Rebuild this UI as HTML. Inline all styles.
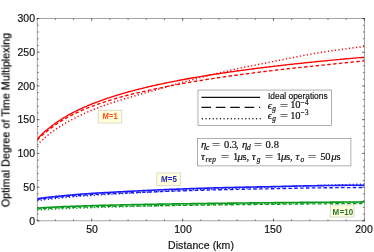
<!DOCTYPE html>
<html><head><meta charset="utf-8"><title>chart</title>
<style>
html,body{margin:0;padding:0;background:#fff;overflow:hidden;}
#w{position:relative;width:374px;height:252px;overflow:hidden;background:#fff;font-family:"Liberation Sans",sans-serif;color:#111;}
.t{position:absolute;white-space:nowrap;line-height:1;will-change:transform;-webkit-text-stroke:0.18px #111;}
.yt{font-size:10.5px;text-align:right;width:30px;left:4.9px;}
.xt{font-size:10.5px;text-align:center;width:40px;}
.m{font-family:"Liberation Serif",serif;}
.ml{font-weight:bold;font-size:8.7px;letter-spacing:-0.6px;}
i{font-style:italic;}
.k{position:absolute;white-space:nowrap;line-height:1;display:block;-webkit-text-stroke:0.2px #111;}
sub{font-size:70%;vertical-align:baseline;position:relative;top:0.25em;}
sup{font-size:70%;vertical-align:baseline;position:relative;top:-0.45em;}
</style></head><body><div id="w">
<svg width="374" height="252" viewBox="0 0 374 252" style="position:absolute;left:0;top:0">
<clipPath id="c"><rect x="37.2" y="18.5" width="327.15000000000003" height="202.35"/></clipPath>
<g clip-path="url(#c)">
<path d="M37.20,210.12 L38.57,210.02 L39.94,209.93 L41.31,209.83 L42.68,209.74 L44.05,209.66 L45.42,209.57 L46.79,209.49 L48.16,209.41 L49.53,209.33 L50.90,209.26 L52.27,209.19 L53.64,209.11 L55.01,209.05 L56.38,208.98 L57.75,208.91 L59.12,208.85 L60.49,208.78 L61.86,208.72 L63.23,208.66 L64.60,208.60 L65.97,208.55 L67.34,208.49 L68.71,208.44 L70.08,208.38 L71.45,208.33 L72.82,208.28 L74.19,208.23 L75.56,208.18 L76.93,208.13 L78.30,208.08 L79.67,208.03 L81.04,207.98 L82.41,207.94 L83.78,207.89 L85.15,207.85 L86.52,207.80 L87.89,207.76 L89.26,207.71 L90.63,207.67 L91.99,207.63 L93.36,207.58 L94.73,207.54 L96.10,207.49 L97.47,207.45 L98.84,207.41 L100.21,207.36 L101.58,207.32 L102.95,207.28 L104.32,207.24 L105.69,207.19 L107.06,207.15 L108.43,207.11 L109.80,207.07 L111.17,207.03 L112.54,206.99 L113.91,206.95 L115.28,206.91 L116.65,206.87 L118.02,206.83 L119.39,206.79 L120.76,206.75 L122.13,206.71 L123.50,206.67 L124.87,206.63 L126.24,206.60 L127.61,206.56 L128.98,206.52 L130.35,206.49 L131.72,206.45 L133.09,206.41 L134.46,206.38 L135.83,206.34 L137.20,206.30 L138.57,206.26 L139.94,206.23 L141.31,206.19 L142.68,206.15 L144.05,206.11 L145.42,206.08 L146.79,206.04 L148.16,206.00 L149.53,205.96 L150.90,205.93 L152.27,205.89 L153.64,205.85 L155.01,205.81 L156.38,205.78 L157.75,205.74 L159.12,205.70 L160.49,205.67 L161.86,205.63 L163.23,205.60 L164.60,205.56 L165.97,205.53 L167.34,205.49 L168.71,205.46 L170.08,205.42 L171.45,205.39 L172.82,205.36 L174.19,205.33 L175.56,205.30 L176.93,205.27 L178.30,205.24 L179.67,205.21 L181.04,205.18 L182.41,205.15 L183.78,205.12 L185.15,205.09 L186.52,205.06 L187.89,205.03 L189.26,205.00 L190.63,204.98 L192.00,204.95 L193.37,204.92 L194.74,204.90 L196.11,204.87 L197.48,204.84 L198.85,204.82 L200.22,204.79 L201.58,204.76 L202.95,204.74 L204.32,204.71 L205.69,204.69 L207.06,204.66 L208.43,204.64 L209.80,204.61 L211.17,204.59 L212.54,204.56 L213.91,204.54 L215.28,204.51 L216.65,204.49 L218.02,204.47 L219.39,204.44 L220.76,204.42 L222.13,204.39 L223.50,204.37 L224.87,204.35 L226.24,204.32 L227.61,204.30 L228.98,204.28 L230.35,204.26 L231.72,204.23 L233.09,204.21 L234.46,204.19 L235.83,204.17 L237.20,204.14 L238.57,204.12 L239.94,204.10 L241.31,204.08 L242.68,204.06 L244.05,204.03 L245.42,204.01 L246.79,203.99 L248.16,203.97 L249.53,203.95 L250.90,203.93 L252.27,203.91 L253.64,203.88 L255.01,203.86 L256.38,203.84 L257.75,203.82 L259.12,203.80 L260.49,203.78 L261.86,203.76 L263.23,203.74 L264.60,203.71 L265.97,203.69 L267.34,203.67 L268.71,203.65 L270.08,203.63 L271.45,203.61 L272.82,203.59 L274.19,203.57 L275.56,203.55 L276.93,203.53 L278.30,203.51 L279.67,203.49 L281.04,203.46 L282.41,203.44 L283.78,203.42 L285.15,203.40 L286.52,203.38 L287.89,203.36 L289.26,203.34 L290.63,203.32 L292.00,203.30 L293.37,203.28 L294.74,203.26 L296.11,203.24 L297.48,203.22 L298.85,203.20 L300.22,203.18 L301.59,203.16 L302.96,203.14 L304.33,203.12 L305.70,203.10 L307.07,203.08 L308.44,203.06 L309.81,203.04 L311.17,203.02 L312.54,203.00 L313.91,202.99 L315.28,202.97 L316.65,202.95 L318.02,202.93 L319.39,202.91 L320.76,202.89 L322.13,202.87 L323.50,202.85 L324.87,202.83 L326.24,202.81 L327.61,202.79 L328.98,202.77 L330.35,202.76 L331.72,202.74 L333.09,202.72 L334.46,202.70 L335.83,202.68 L337.20,202.66 L338.57,202.64 L339.94,202.63 L341.31,202.61 L342.68,202.59 L344.05,202.57 L345.42,202.55 L346.79,202.53 L348.16,202.51 L349.53,202.50 L350.90,202.48 L352.27,202.46 L353.64,202.44 L355.01,202.42 L356.38,202.40 L357.75,202.39 L359.12,202.37 L360.49,202.35 L361.86,202.33 L363.23,202.31 L364.60,202.30" fill="none" stroke="#089a1c" stroke-width="1.5" stroke-dasharray="1.2 2.35"/>
<path d="M37.20,209.02 L38.57,208.93 L39.94,208.84 L41.31,208.75 L42.68,208.66 L44.05,208.58 L45.42,208.50 L46.79,208.43 L48.16,208.35 L49.53,208.28 L50.90,208.21 L52.27,208.14 L53.64,208.08 L55.01,208.02 L56.38,207.95 L57.75,207.89 L59.12,207.84 L60.49,207.78 L61.86,207.72 L63.23,207.67 L64.60,207.62 L65.97,207.57 L67.34,207.52 L68.71,207.47 L70.08,207.42 L71.45,207.38 L72.82,207.33 L74.19,207.29 L75.56,207.24 L76.93,207.20 L78.30,207.16 L79.67,207.12 L81.04,207.08 L82.41,207.04 L83.78,207.00 L85.15,206.97 L86.52,206.93 L87.89,206.90 L89.26,206.86 L90.63,206.83 L91.99,206.80 L93.36,206.76 L94.73,206.73 L96.10,206.70 L97.47,206.67 L98.84,206.65 L100.21,206.62 L101.58,206.59 L102.95,206.56 L104.32,206.54 L105.69,206.51 L107.06,206.48 L108.43,206.46 L109.80,206.43 L111.17,206.41 L112.54,206.38 L113.91,206.36 L115.28,206.34 L116.65,206.31 L118.02,206.29 L119.39,206.27 L120.76,206.25 L122.13,206.22 L123.50,206.20 L124.87,206.18 L126.24,206.16 L127.61,206.13 L128.98,206.11 L130.35,206.09 L131.72,206.07 L133.09,206.05 L134.46,206.03 L135.83,206.01 L137.20,205.99 L138.57,205.97 L139.94,205.95 L141.31,205.93 L142.68,205.91 L144.05,205.89 L145.42,205.88 L146.79,205.86 L148.16,205.84 L149.53,205.82 L150.90,205.80 L152.27,205.79 L153.64,205.77 L155.01,205.75 L156.38,205.74 L157.75,205.72 L159.12,205.70 L160.49,205.68 L161.86,205.67 L163.23,205.65 L164.60,205.63 L165.97,205.61 L167.34,205.59 L168.71,205.58 L170.08,205.56 L171.45,205.54 L172.82,205.52 L174.19,205.50 L175.56,205.48 L176.93,205.46 L178.30,205.44 L179.67,205.42 L181.04,205.40 L182.41,205.38 L183.78,205.36 L185.15,205.33 L186.52,205.31 L187.89,205.29 L189.26,205.28 L190.63,205.26 L192.00,205.24 L193.37,205.22 L194.74,205.20 L196.11,205.18 L197.48,205.16 L198.85,205.14 L200.22,205.12 L201.58,205.10 L202.95,205.09 L204.32,205.07 L205.69,205.05 L207.06,205.03 L208.43,205.01 L209.80,205.00 L211.17,204.98 L212.54,204.96 L213.91,204.94 L215.28,204.93 L216.65,204.91 L218.02,204.89 L219.39,204.87 L220.76,204.86 L222.13,204.84 L223.50,204.82 L224.87,204.81 L226.24,204.79 L227.61,204.77 L228.98,204.76 L230.35,204.74 L231.72,204.73 L233.09,204.71 L234.46,204.69 L235.83,204.68 L237.20,204.66 L238.57,204.65 L239.94,204.63 L241.31,204.62 L242.68,204.60 L244.05,204.58 L245.42,204.57 L246.79,204.55 L248.16,204.54 L249.53,204.52 L250.90,204.51 L252.27,204.50 L253.64,204.48 L255.01,204.47 L256.38,204.45 L257.75,204.44 L259.12,204.42 L260.49,204.41 L261.86,204.39 L263.23,204.38 L264.60,204.37 L265.97,204.35 L267.34,204.34 L268.71,204.32 L270.08,204.31 L271.45,204.30 L272.82,204.28 L274.19,204.27 L275.56,204.26 L276.93,204.24 L278.30,204.23 L279.67,204.22 L281.04,204.20 L282.41,204.19 L283.78,204.18 L285.15,204.16 L286.52,204.15 L287.89,204.14 L289.26,204.12 L290.63,204.11 L292.00,204.10 L293.37,204.09 L294.74,204.07 L296.11,204.06 L297.48,204.05 L298.85,204.04 L300.22,204.02 L301.59,204.01 L302.96,204.00 L304.33,203.99 L305.70,203.97 L307.07,203.96 L308.44,203.95 L309.81,203.94 L311.17,203.93 L312.54,203.91 L313.91,203.90 L315.28,203.89 L316.65,203.88 L318.02,203.87 L319.39,203.86 L320.76,203.84 L322.13,203.83 L323.50,203.82 L324.87,203.81 L326.24,203.80 L327.61,203.79 L328.98,203.78 L330.35,203.76 L331.72,203.75 L333.09,203.74 L334.46,203.73 L335.83,203.72 L337.20,203.71 L338.57,203.70 L339.94,203.69 L341.31,203.68 L342.68,203.66 L344.05,203.65 L345.42,203.64 L346.79,203.63 L348.16,203.62 L349.53,203.61 L350.90,203.60 L352.27,203.59 L353.64,203.58 L355.01,203.57 L356.38,203.56 L357.75,203.55 L359.12,203.54 L360.49,203.53 L361.86,203.52 L363.23,203.51 L364.60,203.50" fill="none" stroke="#089a1c" stroke-width="1.35" stroke-dasharray="3.5 2.35"/>
<path d="M37.20,208.12 L38.57,208.02 L39.94,207.93 L41.31,207.83 L42.68,207.74 L44.05,207.66 L45.42,207.57 L46.79,207.49 L48.16,207.41 L49.53,207.33 L50.90,207.26 L52.27,207.19 L53.64,207.11 L55.01,207.05 L56.38,206.98 L57.75,206.91 L59.12,206.85 L60.49,206.78 L61.86,206.72 L63.23,206.66 L64.60,206.60 L65.97,206.55 L67.34,206.49 L68.71,206.44 L70.08,206.38 L71.45,206.33 L72.82,206.28 L74.19,206.23 L75.56,206.18 L76.93,206.13 L78.30,206.08 L79.67,206.03 L81.04,205.98 L82.41,205.94 L83.78,205.89 L85.15,205.85 L86.52,205.81 L87.89,205.76 L89.26,205.72 L90.63,205.68 L91.99,205.64 L93.36,205.60 L94.73,205.56 L96.10,205.52 L97.47,205.48 L98.84,205.44 L100.21,205.40 L101.58,205.37 L102.95,205.33 L104.32,205.30 L105.69,205.26 L107.06,205.22 L108.43,205.19 L109.80,205.16 L111.17,205.12 L112.54,205.09 L113.91,205.06 L115.28,205.02 L116.65,204.99 L118.02,204.96 L119.39,204.93 L120.76,204.90 L122.13,204.87 L123.50,204.84 L124.87,204.81 L126.24,204.78 L127.61,204.75 L128.98,204.72 L130.35,204.69 L131.72,204.66 L133.09,204.63 L134.46,204.60 L135.83,204.58 L137.20,204.55 L138.57,204.52 L139.94,204.50 L141.31,204.47 L142.68,204.44 L144.05,204.42 L145.42,204.39 L146.79,204.37 L148.16,204.34 L149.53,204.32 L150.90,204.29 L152.27,204.27 L153.64,204.24 L155.01,204.22 L156.38,204.19 L157.75,204.17 L159.12,204.15 L160.49,204.12 L161.86,204.10 L163.23,204.08 L164.60,204.05 L165.97,204.03 L167.34,204.01 L168.71,203.99 L170.08,203.97 L171.45,203.94 L172.82,203.92 L174.19,203.90 L175.56,203.88 L176.93,203.86 L178.30,203.84 L179.67,203.82 L181.04,203.80 L182.41,203.78 L183.78,203.76 L185.15,203.73 L186.52,203.71 L187.89,203.69 L189.26,203.68 L190.63,203.66 L192.00,203.64 L193.37,203.62 L194.74,203.60 L196.11,203.58 L197.48,203.56 L198.85,203.54 L200.22,203.52 L201.58,203.50 L202.95,203.49 L204.32,203.47 L205.69,203.45 L207.06,203.43 L208.43,203.41 L209.80,203.40 L211.17,203.38 L212.54,203.36 L213.91,203.34 L215.28,203.33 L216.65,203.31 L218.02,203.29 L219.39,203.27 L220.76,203.26 L222.13,203.24 L223.50,203.22 L224.87,203.21 L226.24,203.19 L227.61,203.17 L228.98,203.16 L230.35,203.14 L231.72,203.13 L233.09,203.11 L234.46,203.09 L235.83,203.08 L237.20,203.06 L238.57,203.05 L239.94,203.03 L241.31,203.02 L242.68,203.00 L244.05,202.98 L245.42,202.97 L246.79,202.95 L248.16,202.94 L249.53,202.92 L250.90,202.91 L252.27,202.90 L253.64,202.88 L255.01,202.87 L256.38,202.85 L257.75,202.84 L259.12,202.82 L260.49,202.81 L261.86,202.79 L263.23,202.78 L264.60,202.77 L265.97,202.75 L267.34,202.74 L268.71,202.72 L270.08,202.71 L271.45,202.70 L272.82,202.68 L274.19,202.67 L275.56,202.66 L276.93,202.64 L278.30,202.63 L279.67,202.62 L281.04,202.60 L282.41,202.59 L283.78,202.58 L285.15,202.56 L286.52,202.55 L287.89,202.54 L289.26,202.52 L290.63,202.51 L292.00,202.50 L293.37,202.49 L294.74,202.47 L296.11,202.46 L297.48,202.45 L298.85,202.44 L300.22,202.42 L301.59,202.41 L302.96,202.40 L304.33,202.39 L305.70,202.37 L307.07,202.36 L308.44,202.35 L309.81,202.34 L311.17,202.33 L312.54,202.31 L313.91,202.30 L315.28,202.29 L316.65,202.28 L318.02,202.27 L319.39,202.26 L320.76,202.24 L322.13,202.23 L323.50,202.22 L324.87,202.21 L326.24,202.20 L327.61,202.19 L328.98,202.18 L330.35,202.16 L331.72,202.15 L333.09,202.14 L334.46,202.13 L335.83,202.12 L337.20,202.11 L338.57,202.10 L339.94,202.09 L341.31,202.08 L342.68,202.06 L344.05,202.05 L345.42,202.04 L346.79,202.03 L348.16,202.02 L349.53,202.01 L350.90,202.00 L352.27,201.99 L353.64,201.98 L355.01,201.97 L356.38,201.96 L357.75,201.95 L359.12,201.94 L360.49,201.93 L361.86,201.92 L363.23,201.91 L364.60,201.90" fill="none" stroke="#089a1c" stroke-width="1.6"/>
<path d="M37.20,200.60 L38.57,200.44 L39.94,200.27 L41.31,200.11 L42.68,199.95 L44.05,199.79 L45.42,199.63 L46.79,199.47 L48.16,199.32 L49.53,199.16 L50.90,199.01 L52.27,198.86 L53.64,198.71 L55.01,198.57 L56.38,198.42 L57.75,198.28 L59.12,198.14 L60.49,198.00 L61.86,197.86 L63.23,197.73 L64.60,197.59 L65.97,197.46 L67.34,197.33 L68.71,197.21 L70.08,197.08 L71.45,196.96 L72.82,196.84 L74.19,196.72 L75.56,196.61 L76.93,196.49 L78.30,196.38 L79.67,196.28 L81.04,196.17 L82.41,196.07 L83.78,195.97 L85.15,195.87 L86.52,195.77 L87.89,195.68 L89.26,195.58 L90.63,195.49 L91.99,195.39 L93.36,195.30 L94.73,195.21 L96.10,195.12 L97.47,195.03 L98.84,194.94 L100.21,194.86 L101.58,194.77 L102.95,194.68 L104.32,194.60 L105.69,194.52 L107.06,194.43 L108.43,194.35 L109.80,194.27 L111.17,194.19 L112.54,194.10 L113.91,194.02 L115.28,193.94 L116.65,193.86 L118.02,193.78 L119.39,193.71 L120.76,193.63 L122.13,193.55 L123.50,193.47 L124.87,193.39 L126.24,193.31 L127.61,193.24 L128.98,193.16 L130.35,193.08 L131.72,193.00 L133.09,192.92 L134.46,192.85 L135.83,192.77 L137.20,192.69 L138.57,192.61 L139.94,192.53 L141.31,192.45 L142.68,192.37 L144.05,192.29 L145.42,192.22 L146.79,192.14 L148.16,192.06 L149.53,191.98 L150.90,191.91 L152.27,191.83 L153.64,191.75 L155.01,191.68 L156.38,191.60 L157.75,191.52 L159.12,191.45 L160.49,191.38 L161.86,191.30 L163.23,191.23 L164.60,191.16 L165.97,191.09 L167.34,191.02 L168.71,190.95 L170.08,190.88 L171.45,190.81 L172.82,190.74 L174.19,190.68 L175.56,190.61 L176.93,190.55 L178.30,190.49 L179.67,190.42 L181.04,190.36 L182.41,190.30 L183.78,190.24 L185.15,190.18 L186.52,190.12 L187.89,190.06 L189.26,190.01 L190.63,189.95 L192.00,189.89 L193.37,189.83 L194.74,189.78 L196.11,189.72 L197.48,189.67 L198.85,189.61 L200.22,189.56 L201.58,189.50 L202.95,189.45 L204.32,189.40 L205.69,189.34 L207.06,189.29 L208.43,189.24 L209.80,189.19 L211.17,189.14 L212.54,189.08 L213.91,189.03 L215.28,188.98 L216.65,188.93 L218.02,188.88 L219.39,188.83 L220.76,188.79 L222.13,188.74 L223.50,188.69 L224.87,188.64 L226.24,188.59 L227.61,188.54 L228.98,188.50 L230.35,188.45 L231.72,188.40 L233.09,188.36 L234.46,188.31 L235.83,188.26 L237.20,188.22 L238.57,188.17 L239.94,188.12 L241.31,188.08 L242.68,188.03 L244.05,187.99 L245.42,187.94 L246.79,187.90 L248.16,187.85 L249.53,187.81 L250.90,187.76 L252.27,187.72 L253.64,187.67 L255.01,187.63 L256.38,187.58 L257.75,187.54 L259.12,187.49 L260.49,187.45 L261.86,187.40 L263.23,187.36 L264.60,187.31 L265.97,187.27 L267.34,187.22 L268.71,187.18 L270.08,187.13 L271.45,187.08 L272.82,187.04 L274.19,186.99 L275.56,186.95 L276.93,186.90 L278.30,186.86 L279.67,186.81 L281.04,186.76 L282.41,186.71 L283.78,186.67 L285.15,186.62 L286.52,186.57 L287.89,186.52 L289.26,186.48 L290.63,186.43 L292.00,186.38 L293.37,186.33 L294.74,186.28 L296.11,186.24 L297.48,186.19 L298.85,186.14 L300.22,186.10 L301.59,186.05 L302.96,186.00 L304.33,185.96 L305.70,185.91 L307.07,185.86 L308.44,185.82 L309.81,185.77 L311.17,185.73 L312.54,185.69 L313.91,185.64 L315.28,185.60 L316.65,185.56 L318.02,185.52 L319.39,185.48 L320.76,185.44 L322.13,185.40 L323.50,185.36 L324.87,185.32 L326.24,185.28 L327.61,185.24 L328.98,185.19 L330.35,185.15 L331.72,185.11 L333.09,185.07 L334.46,185.03 L335.83,184.99 L337.20,184.94 L338.57,184.90 L339.94,184.86 L341.31,184.82 L342.68,184.77 L344.05,184.73 L345.42,184.69 L346.79,184.64 L348.16,184.60 L349.53,184.56 L350.90,184.52 L352.27,184.47 L353.64,184.43 L355.01,184.39 L356.38,184.35 L357.75,184.30 L359.12,184.26 L360.49,184.22 L361.86,184.18 L363.23,184.14 L364.60,184.10" fill="none" stroke="#1a1aff" stroke-width="1.5" stroke-dasharray="1.2 2.35"/>
<path d="M37.20,199.50 L38.57,199.34 L39.94,199.18 L41.31,199.02 L42.68,198.86 L44.05,198.71 L45.42,198.56 L46.79,198.40 L48.16,198.25 L49.53,198.10 L50.90,197.96 L52.27,197.81 L53.64,197.67 L55.01,197.53 L56.38,197.39 L57.75,197.25 L59.12,197.12 L60.49,196.98 L61.86,196.85 L63.23,196.72 L64.60,196.60 L65.97,196.47 L67.34,196.35 L68.71,196.23 L70.08,196.11 L71.45,196.00 L72.82,195.89 L74.19,195.78 L75.56,195.67 L76.93,195.56 L78.30,195.46 L79.67,195.36 L81.04,195.27 L82.41,195.17 L83.78,195.08 L85.15,194.99 L86.52,194.90 L87.89,194.82 L89.26,194.74 L90.63,194.65 L91.99,194.57 L93.36,194.50 L94.73,194.42 L96.10,194.35 L97.47,194.27 L98.84,194.20 L100.21,194.13 L101.58,194.06 L102.95,193.99 L104.32,193.93 L105.69,193.86 L107.06,193.80 L108.43,193.74 L109.80,193.67 L111.17,193.61 L112.54,193.55 L113.91,193.49 L115.28,193.43 L116.65,193.37 L118.02,193.31 L119.39,193.25 L120.76,193.19 L122.13,193.14 L123.50,193.08 L124.87,193.02 L126.24,192.96 L127.61,192.90 L128.98,192.84 L130.35,192.78 L131.72,192.73 L133.09,192.67 L134.46,192.61 L135.83,192.55 L137.20,192.50 L138.57,192.44 L139.94,192.39 L141.31,192.33 L142.68,192.28 L144.05,192.22 L145.42,192.17 L146.79,192.12 L148.16,192.06 L149.53,192.01 L150.90,191.96 L152.27,191.91 L153.64,191.86 L155.01,191.81 L156.38,191.76 L157.75,191.71 L159.12,191.66 L160.49,191.61 L161.86,191.56 L163.23,191.51 L164.60,191.46 L165.97,191.41 L167.34,191.36 L168.71,191.32 L170.08,191.27 L171.45,191.22 L172.82,191.18 L174.19,191.13 L175.56,191.08 L176.93,191.04 L178.30,190.99 L179.67,190.94 L181.04,190.90 L182.41,190.85 L183.78,190.81 L185.15,190.76 L186.52,190.72 L187.89,190.68 L189.26,190.63 L190.63,190.59 L192.00,190.55 L193.37,190.50 L194.74,190.46 L196.11,190.42 L197.48,190.38 L198.85,190.34 L200.22,190.30 L201.58,190.26 L202.95,190.22 L204.32,190.18 L205.69,190.14 L207.06,190.10 L208.43,190.06 L209.80,190.03 L211.17,189.99 L212.54,189.95 L213.91,189.92 L215.28,189.88 L216.65,189.85 L218.02,189.81 L219.39,189.78 L220.76,189.74 L222.13,189.71 L223.50,189.68 L224.87,189.64 L226.24,189.61 L227.61,189.58 L228.98,189.55 L230.35,189.52 L231.72,189.49 L233.09,189.46 L234.46,189.43 L235.83,189.40 L237.20,189.37 L238.57,189.35 L239.94,189.32 L241.31,189.29 L242.68,189.27 L244.05,189.24 L245.42,189.22 L246.79,189.19 L248.16,189.16 L249.53,189.14 L250.90,189.11 L252.27,189.09 L253.64,189.07 L255.01,189.04 L256.38,189.02 L257.75,188.99 L259.12,188.97 L260.49,188.94 L261.86,188.92 L263.23,188.90 L264.60,188.87 L265.97,188.85 L267.34,188.82 L268.71,188.80 L270.08,188.77 L271.45,188.75 L272.82,188.72 L274.19,188.70 L275.56,188.67 L276.93,188.64 L278.30,188.62 L279.67,188.59 L281.04,188.56 L282.41,188.53 L283.78,188.50 L285.15,188.48 L286.52,188.45 L287.89,188.42 L289.26,188.39 L290.63,188.36 L292.00,188.33 L293.37,188.30 L294.74,188.27 L296.11,188.24 L297.48,188.21 L298.85,188.19 L300.22,188.16 L301.59,188.13 L302.96,188.10 L304.33,188.08 L305.70,188.05 L307.07,188.03 L308.44,188.00 L309.81,187.98 L311.17,187.95 L312.54,187.93 L313.91,187.91 L315.28,187.89 L316.65,187.87 L318.02,187.85 L319.39,187.83 L320.76,187.82 L322.13,187.80 L323.50,187.79 L324.87,187.77 L326.24,187.76 L327.61,187.75 L328.98,187.73 L330.35,187.72 L331.72,187.71 L333.09,187.69 L334.46,187.68 L335.83,187.67 L337.20,187.66 L338.57,187.64 L339.94,187.63 L341.31,187.62 L342.68,187.61 L344.05,187.60 L345.42,187.59 L346.79,187.58 L348.16,187.57 L349.53,187.56 L350.90,187.55 L352.27,187.55 L353.64,187.54 L355.01,187.53 L356.38,187.53 L357.75,187.52 L359.12,187.51 L360.49,187.51 L361.86,187.51 L363.23,187.50 L364.60,187.50" fill="none" stroke="#1a1aff" stroke-width="1.35" stroke-dasharray="3.5 2.35"/>
<path d="M37.20,198.60 L38.57,198.44 L39.94,198.27 L41.31,198.11 L42.68,197.95 L44.05,197.79 L45.42,197.63 L46.79,197.47 L48.16,197.32 L49.53,197.16 L50.90,197.01 L52.27,196.86 L53.64,196.71 L55.01,196.57 L56.38,196.42 L57.75,196.28 L59.12,196.14 L60.49,196.00 L61.86,195.86 L63.23,195.73 L64.60,195.59 L65.97,195.46 L67.34,195.33 L68.71,195.21 L70.08,195.08 L71.45,194.96 L72.82,194.84 L74.19,194.72 L75.56,194.61 L76.93,194.49 L78.30,194.38 L79.67,194.28 L81.04,194.17 L82.41,194.07 L83.78,193.97 L85.15,193.87 L86.52,193.78 L87.89,193.68 L89.26,193.59 L90.63,193.50 L91.99,193.41 L93.36,193.32 L94.73,193.23 L96.10,193.15 L97.47,193.06 L98.84,192.98 L100.21,192.90 L101.58,192.82 L102.95,192.74 L104.32,192.66 L105.69,192.58 L107.06,192.50 L108.43,192.43 L109.80,192.35 L111.17,192.28 L112.54,192.21 L113.91,192.13 L115.28,192.06 L116.65,191.99 L118.02,191.92 L119.39,191.85 L120.76,191.77 L122.13,191.70 L123.50,191.63 L124.87,191.56 L126.24,191.49 L127.61,191.42 L128.98,191.35 L130.35,191.28 L131.72,191.21 L133.09,191.14 L134.46,191.07 L135.83,191.00 L137.20,190.93 L138.57,190.86 L139.94,190.80 L141.31,190.73 L142.68,190.66 L144.05,190.59 L145.42,190.53 L146.79,190.46 L148.16,190.39 L149.53,190.33 L150.90,190.26 L152.27,190.20 L153.64,190.13 L155.01,190.07 L156.38,190.00 L157.75,189.94 L159.12,189.88 L160.49,189.82 L161.86,189.76 L163.23,189.70 L164.60,189.64 L165.97,189.58 L167.34,189.52 L168.71,189.47 L170.08,189.41 L171.45,189.35 L172.82,189.30 L174.19,189.25 L175.56,189.19 L176.93,189.14 L178.30,189.09 L179.67,189.04 L181.04,188.99 L182.41,188.94 L183.78,188.89 L185.15,188.84 L186.52,188.79 L187.89,188.74 L189.26,188.70 L190.63,188.65 L192.00,188.60 L193.37,188.56 L194.74,188.51 L196.11,188.47 L197.48,188.42 L198.85,188.38 L200.22,188.33 L201.58,188.29 L202.95,188.25 L204.32,188.20 L205.69,188.16 L207.06,188.12 L208.43,188.08 L209.80,188.04 L211.17,188.00 L212.54,187.96 L213.91,187.92 L215.28,187.88 L216.65,187.85 L218.02,187.81 L219.39,187.77 L220.76,187.73 L222.13,187.70 L223.50,187.66 L224.87,187.63 L226.24,187.59 L227.61,187.56 L228.98,187.53 L230.35,187.49 L231.72,187.46 L233.09,187.43 L234.46,187.40 L235.83,187.37 L237.20,187.34 L238.57,187.31 L239.94,187.28 L241.31,187.25 L242.68,187.22 L244.05,187.19 L245.42,187.17 L246.79,187.14 L248.16,187.11 L249.53,187.08 L250.90,187.06 L252.27,187.03 L253.64,187.00 L255.01,186.98 L256.38,186.95 L257.75,186.92 L259.12,186.90 L260.49,186.87 L261.86,186.84 L263.23,186.82 L264.60,186.79 L265.97,186.76 L267.34,186.74 L268.71,186.71 L270.08,186.68 L271.45,186.65 L272.82,186.62 L274.19,186.60 L275.56,186.57 L276.93,186.54 L278.30,186.51 L279.67,186.48 L281.04,186.45 L282.41,186.42 L283.78,186.38 L285.15,186.35 L286.52,186.32 L287.89,186.29 L289.26,186.26 L290.63,186.22 L292.00,186.19 L293.37,186.16 L294.74,186.13 L296.11,186.10 L297.48,186.06 L298.85,186.03 L300.22,186.00 L301.59,185.97 L302.96,185.94 L304.33,185.91 L305.70,185.88 L307.07,185.85 L308.44,185.83 L309.81,185.80 L311.17,185.77 L312.54,185.75 L313.91,185.72 L315.28,185.70 L316.65,185.68 L318.02,185.66 L319.39,185.64 L320.76,185.62 L322.13,185.60 L323.50,185.58 L324.87,185.56 L326.24,185.55 L327.61,185.53 L328.98,185.51 L330.35,185.50 L331.72,185.48 L333.09,185.46 L334.46,185.45 L335.83,185.43 L337.20,185.42 L338.57,185.40 L339.94,185.39 L341.31,185.37 L342.68,185.36 L344.05,185.35 L345.42,185.33 L346.79,185.32 L348.16,185.31 L349.53,185.30 L350.90,185.28 L352.27,185.27 L353.64,185.26 L355.01,185.25 L356.38,185.24 L357.75,185.24 L359.12,185.23 L360.49,185.22 L361.86,185.21 L363.23,185.21 L364.60,185.20" fill="none" stroke="#1a1aff" stroke-width="1.6"/>
<path d="M37.20,145.10 L38.57,143.67 L39.94,142.29 L41.31,140.97 L42.68,139.69 L44.05,138.46 L45.42,137.27 L46.79,136.11 L48.16,134.99 L49.53,133.91 L50.90,132.85 L52.27,131.83 L53.64,130.84 L55.01,129.87 L56.38,128.93 L57.75,128.01 L59.12,127.10 L60.49,126.21 L61.86,125.35 L63.23,124.50 L64.60,123.68 L65.97,122.87 L67.34,122.09 L68.71,121.32 L70.08,120.57 L71.45,119.83 L72.82,119.11 L74.19,118.40 L75.56,117.69 L76.93,117.00 L78.30,116.31 L79.67,115.63 L81.04,114.96 L82.41,114.31 L83.78,113.67 L85.15,113.05 L86.52,112.44 L87.89,111.85 L89.26,111.26 L90.63,110.69 L91.99,110.13 L93.36,109.58 L94.73,109.03 L96.10,108.50 L97.47,107.97 L98.84,107.45 L100.21,106.94 L101.58,106.43 L102.95,105.93 L104.32,105.44 L105.69,104.95 L107.06,104.48 L108.43,104.01 L109.80,103.54 L111.17,103.08 L112.54,102.63 L113.91,102.18 L115.28,101.74 L116.65,101.30 L118.02,100.86 L119.39,100.44 L120.76,100.01 L122.13,99.59 L123.50,99.18 L124.87,98.77 L126.24,98.36 L127.61,97.95 L128.98,97.55 L130.35,97.15 L131.72,96.75 L133.09,96.36 L134.46,95.96 L135.83,95.56 L137.20,95.17 L138.57,94.78 L139.94,94.39 L141.31,94.00 L142.68,93.61 L144.05,93.23 L145.42,92.84 L146.79,92.46 L148.16,92.08 L149.53,91.70 L150.90,91.33 L152.27,90.95 L153.64,90.56 L155.01,90.18 L156.38,89.79 L157.75,89.40 L159.12,89.01 L160.49,88.62 L161.86,88.23 L163.23,87.84 L164.60,87.46 L165.97,87.07 L167.34,86.67 L168.71,86.27 L170.08,85.87 L171.45,85.47 L172.82,85.07 L174.19,84.67 L175.56,84.27 L176.93,83.87 L178.30,83.48 L179.67,83.10 L181.04,82.72 L182.41,82.34 L183.78,81.97 L185.15,81.60 L186.52,81.23 L187.89,80.86 L189.26,80.50 L190.63,80.14 L192.00,79.78 L193.37,79.42 L194.74,79.06 L196.11,78.70 L197.48,78.34 L198.85,77.98 L200.22,77.62 L201.58,77.26 L202.95,76.90 L204.32,76.54 L205.69,76.19 L207.06,75.84 L208.43,75.49 L209.80,75.15 L211.17,74.81 L212.54,74.48 L213.91,74.15 L215.28,73.83 L216.65,73.50 L218.02,73.19 L219.39,72.87 L220.76,72.55 L222.13,72.24 L223.50,71.92 L224.87,71.61 L226.24,71.29 L227.61,70.98 L228.98,70.66 L230.35,70.34 L231.72,70.02 L233.09,69.71 L234.46,69.39 L235.83,69.08 L237.20,68.77 L238.57,68.47 L239.94,68.17 L241.31,67.87 L242.68,67.58 L244.05,67.29 L245.42,67.01 L246.79,66.73 L248.16,66.46 L249.53,66.19 L250.90,65.92 L252.27,65.65 L253.64,65.38 L255.01,65.12 L256.38,64.86 L257.75,64.59 L259.12,64.33 L260.49,64.07 L261.86,63.80 L263.23,63.53 L264.60,63.27 L265.97,62.99 L267.34,62.72 L268.71,62.45 L270.08,62.18 L271.45,61.90 L272.82,61.62 L274.19,61.35 L275.56,61.07 L276.93,60.80 L278.30,60.52 L279.67,60.24 L281.04,59.97 L282.41,59.69 L283.78,59.42 L285.15,59.15 L286.52,58.87 L287.89,58.60 L289.26,58.33 L290.63,58.06 L292.00,57.78 L293.37,57.51 L294.74,57.23 L296.11,56.96 L297.48,56.68 L298.85,56.41 L300.22,56.13 L301.59,55.86 L302.96,55.59 L304.33,55.33 L305.70,55.07 L307.07,54.81 L308.44,54.56 L309.81,54.31 L311.17,54.07 L312.54,53.83 L313.91,53.60 L315.28,53.37 L316.65,53.14 L318.02,52.92 L319.39,52.70 L320.76,52.48 L322.13,52.26 L323.50,52.05 L324.87,51.83 L326.24,51.62 L327.61,51.41 L328.98,51.21 L330.35,51.00 L331.72,50.80 L333.09,50.60 L334.46,50.40 L335.83,50.20 L337.20,50.01 L338.57,49.81 L339.94,49.62 L341.31,49.43 L342.68,49.24 L344.05,49.05 L345.42,48.87 L346.79,48.68 L348.16,48.50 L349.53,48.32 L350.90,48.14 L352.27,47.96 L353.64,47.78 L355.01,47.61 L356.38,47.43 L357.75,47.26 L359.12,47.09 L360.49,46.92 L361.86,46.76 L363.23,46.59 L364.60,46.43" fill="none" stroke="#ff0000" stroke-width="1.5" stroke-dasharray="1.2 2.35"/>
<path d="M37.20,139.90 L38.57,138.57 L39.94,137.29 L41.31,136.06 L42.68,134.86 L44.05,133.69 L45.42,132.55 L46.79,131.41 L48.16,130.29 L49.53,129.21 L50.90,128.15 L52.27,127.12 L53.64,126.12 L55.01,125.15 L56.38,124.20 L57.75,123.28 L59.12,122.39 L60.49,121.53 L61.86,120.69 L63.23,119.87 L64.60,119.07 L65.97,118.29 L67.34,117.53 L68.71,116.79 L70.08,116.07 L71.45,115.36 L72.82,114.67 L74.19,113.99 L75.56,113.33 L76.93,112.68 L78.30,112.04 L79.67,111.42 L81.04,110.80 L82.41,110.19 L83.78,109.59 L85.15,109.01 L86.52,108.44 L87.89,107.88 L89.26,107.34 L90.63,106.81 L91.99,106.30 L93.36,105.79 L94.73,105.30 L96.10,104.82 L97.47,104.34 L98.84,103.87 L100.21,103.41 L101.58,102.96 L102.95,102.51 L104.32,102.06 L105.69,101.62 L107.06,101.18 L108.43,100.74 L109.80,100.31 L111.17,99.89 L112.54,99.47 L113.91,99.05 L115.28,98.64 L116.65,98.24 L118.02,97.84 L119.39,97.45 L120.76,97.07 L122.13,96.69 L123.50,96.32 L124.87,95.96 L126.24,95.60 L127.61,95.25 L128.98,94.90 L130.35,94.56 L131.72,94.23 L133.09,93.90 L134.46,93.57 L135.83,93.25 L137.20,92.93 L138.57,92.61 L139.94,92.30 L141.31,91.98 L142.68,91.68 L144.05,91.37 L145.42,91.07 L146.79,90.77 L148.16,90.48 L149.53,90.18 L150.90,89.88 L152.27,89.58 L153.64,89.28 L155.01,88.99 L156.38,88.70 L157.75,88.41 L159.12,88.13 L160.49,87.84 L161.86,87.56 L163.23,87.28 L164.60,87.00 L165.97,86.73 L167.34,86.46 L168.71,86.18 L170.08,85.92 L171.45,85.65 L172.82,85.39 L174.19,85.13 L175.56,84.87 L176.93,84.61 L178.30,84.35 L179.67,84.10 L181.04,83.85 L182.41,83.60 L183.78,83.36 L185.15,83.11 L186.52,82.87 L187.89,82.63 L189.26,82.39 L190.63,82.15 L192.00,81.92 L193.37,81.68 L194.74,81.45 L196.11,81.22 L197.48,80.99 L198.85,80.77 L200.22,80.54 L201.58,80.32 L202.95,80.10 L204.32,79.88 L205.69,79.66 L207.06,79.44 L208.43,79.23 L209.80,79.01 L211.17,78.80 L212.54,78.59 L213.91,78.38 L215.28,78.17 L216.65,77.97 L218.02,77.76 L219.39,77.56 L220.76,77.35 L222.13,77.15 L223.50,76.95 L224.87,76.75 L226.24,76.56 L227.61,76.36 L228.98,76.17 L230.35,75.98 L231.72,75.78 L233.09,75.59 L234.46,75.41 L235.83,75.22 L237.20,75.03 L238.57,74.85 L239.94,74.66 L241.31,74.48 L242.68,74.30 L244.05,74.12 L245.42,73.94 L246.79,73.76 L248.16,73.58 L249.53,73.40 L250.90,73.23 L252.27,73.05 L253.64,72.88 L255.01,72.70 L256.38,72.53 L257.75,72.36 L259.12,72.19 L260.49,72.02 L261.86,71.85 L263.23,71.68 L264.60,71.51 L265.97,71.35 L267.34,71.18 L268.71,71.01 L270.08,70.85 L271.45,70.69 L272.82,70.52 L274.19,70.36 L275.56,70.20 L276.93,70.04 L278.30,69.88 L279.67,69.72 L281.04,69.57 L282.41,69.41 L283.78,69.25 L285.15,69.10 L286.52,68.95 L287.89,68.79 L289.26,68.64 L290.63,68.49 L292.00,68.34 L293.37,68.19 L294.74,68.04 L296.11,67.89 L297.48,67.74 L298.85,67.60 L300.22,67.45 L301.59,67.31 L302.96,67.16 L304.33,67.02 L305.70,66.88 L307.07,66.73 L308.44,66.59 L309.81,66.45 L311.17,66.31 L312.54,66.17 L313.91,66.03 L315.28,65.89 L316.65,65.75 L318.02,65.61 L319.39,65.47 L320.76,65.33 L322.13,65.19 L323.50,65.05 L324.87,64.91 L326.24,64.76 L327.61,64.62 L328.98,64.48 L330.35,64.34 L331.72,64.20 L333.09,64.06 L334.46,63.91 L335.83,63.77 L337.20,63.63 L338.57,63.49 L339.94,63.35 L341.31,63.20 L342.68,63.06 L344.05,62.92 L345.42,62.78 L346.79,62.64 L348.16,62.50 L349.53,62.36 L350.90,62.22 L352.27,62.08 L353.64,61.94 L355.01,61.80 L356.38,61.66 L357.75,61.52 L359.12,61.38 L360.49,61.24 L361.86,61.10 L363.23,60.97 L364.60,60.83" fill="none" stroke="#ff0000" stroke-width="1.35" stroke-dasharray="3.5 2.35"/>
<path d="M37.20,139.20 L38.57,137.72 L39.94,136.29 L41.31,134.92 L42.68,133.60 L44.05,132.33 L45.42,131.10 L46.79,129.91 L48.16,128.76 L49.53,127.65 L50.90,126.57 L52.27,125.52 L53.64,124.50 L55.01,123.51 L56.38,122.55 L57.75,121.61 L59.12,120.70 L60.49,119.81 L61.86,118.95 L63.23,118.10 L64.60,117.28 L65.97,116.47 L67.34,115.69 L68.71,114.92 L70.08,114.17 L71.45,113.43 L72.82,112.71 L74.19,112.00 L75.56,111.31 L76.93,110.64 L78.30,109.97 L79.67,109.32 L81.04,108.68 L82.41,108.06 L83.78,107.44 L85.15,106.84 L86.52,106.25 L87.89,105.66 L89.26,105.09 L90.63,104.53 L91.99,103.97 L93.36,103.43 L94.73,102.90 L96.10,102.37 L97.47,101.85 L98.84,101.34 L100.21,100.84 L101.58,100.34 L102.95,99.86 L104.32,99.38 L105.69,98.90 L107.06,98.44 L108.43,97.98 L109.80,97.52 L111.17,97.08 L112.54,96.63 L113.91,96.20 L115.28,95.77 L116.65,95.35 L118.02,94.93 L119.39,94.52 L120.76,94.11 L122.13,93.71 L123.50,93.31 L124.87,92.92 L126.24,92.53 L127.61,92.15 L128.98,91.77 L130.35,91.40 L131.72,91.03 L133.09,90.66 L134.46,90.30 L135.83,89.94 L137.20,89.59 L138.57,89.24 L139.94,88.90 L141.31,88.56 L142.68,88.22 L144.05,87.88 L145.42,87.55 L146.79,87.23 L148.16,86.90 L149.53,86.58 L150.90,86.27 L152.27,85.95 L153.64,85.64 L155.01,85.33 L156.38,85.03 L157.75,84.73 L159.12,84.43 L160.49,84.13 L161.86,83.84 L163.23,83.55 L164.60,83.26 L165.97,82.98 L167.34,82.70 L168.71,82.42 L170.08,82.14 L171.45,81.87 L172.82,81.59 L174.19,81.32 L175.56,81.06 L176.93,80.79 L178.30,80.53 L179.67,80.27 L181.04,80.01 L182.41,79.75 L183.78,79.50 L185.15,79.25 L186.52,79.00 L187.89,78.75 L189.26,78.51 L190.63,78.26 L192.00,78.02 L193.37,77.78 L194.74,77.54 L196.11,77.31 L197.48,77.07 L198.85,76.84 L200.22,76.61 L201.58,76.38 L202.95,76.15 L204.32,75.93 L205.69,75.71 L207.06,75.48 L208.43,75.26 L209.80,75.04 L211.17,74.83 L212.54,74.61 L213.91,74.40 L215.28,74.19 L216.65,73.98 L218.02,73.77 L219.39,73.56 L220.76,73.35 L222.13,73.15 L223.50,72.94 L224.87,72.74 L226.24,72.54 L227.61,72.34 L228.98,72.14 L230.35,71.95 L231.72,71.75 L233.09,71.56 L234.46,71.36 L235.83,71.17 L237.20,70.98 L238.57,70.79 L239.94,70.60 L241.31,70.42 L242.68,70.23 L244.05,70.05 L245.42,69.86 L246.79,69.68 L248.16,69.50 L249.53,69.32 L250.90,69.14 L252.27,68.96 L253.64,68.79 L255.01,68.61 L256.38,68.44 L257.75,68.26 L259.12,68.09 L260.49,67.92 L261.86,67.75 L263.23,67.58 L264.60,67.41 L265.97,67.25 L267.34,67.08 L268.71,66.91 L270.08,66.75 L271.45,66.59 L272.82,66.42 L274.19,66.26 L275.56,66.10 L276.93,65.94 L278.30,65.78 L279.67,65.62 L281.04,65.47 L282.41,65.31 L283.78,65.15 L285.15,65.00 L286.52,64.85 L287.89,64.69 L289.26,64.54 L290.63,64.39 L292.00,64.24 L293.37,64.09 L294.74,63.94 L296.11,63.79 L297.48,63.64 L298.85,63.50 L300.22,63.35 L301.59,63.21 L302.96,63.06 L304.33,62.92 L305.70,62.78 L307.07,62.63 L308.44,62.49 L309.81,62.35 L311.17,62.21 L312.54,62.07 L313.91,61.93 L315.28,61.79 L316.65,61.66 L318.02,61.52 L319.39,61.38 L320.76,61.25 L322.13,61.11 L323.50,60.98 L324.87,60.85 L326.24,60.71 L327.61,60.58 L328.98,60.45 L330.35,60.32 L331.72,60.19 L333.09,60.06 L334.46,59.93 L335.83,59.80 L337.20,59.67 L338.57,59.55 L339.94,59.42 L341.31,59.29 L342.68,59.17 L344.05,59.04 L345.42,58.92 L346.79,58.79 L348.16,58.67 L349.53,58.55 L350.90,58.42 L352.27,58.30 L353.64,58.18 L355.01,58.06 L356.38,57.94 L357.75,57.82 L359.12,57.70 L360.49,57.58 L361.86,57.46 L363.23,57.35 L364.60,57.23" fill="none" stroke="#ff0000" stroke-width="1.35"/>
</g>
<rect x="37.2" y="18.5" width="327.15000000000003" height="202.35" fill="none" stroke="#6a6a6a" stroke-width="0.6"/>
<path d="M37.2,214.10h1.5 M364.35,214.10h-1.5 M37.2,207.36h1.5 M364.35,207.36h-1.5 M37.2,200.62h1.5 M364.35,200.62h-1.5 M37.2,193.87h1.5 M364.35,193.87h-1.5 M37.2,180.38h1.5 M364.35,180.38h-1.5 M37.2,173.63h1.5 M364.35,173.63h-1.5 M37.2,166.89h1.5 M364.35,166.89h-1.5 M37.2,160.14h1.5 M364.35,160.14h-1.5 M37.2,146.66h1.5 M364.35,146.66h-1.5 M37.2,139.91h1.5 M364.35,139.91h-1.5 M37.2,133.16h1.5 M364.35,133.16h-1.5 M37.2,126.42h1.5 M364.35,126.42h-1.5 M37.2,112.93h1.5 M364.35,112.93h-1.5 M37.2,106.18h1.5 M364.35,106.18h-1.5 M37.2,99.44h1.5 M364.35,99.44h-1.5 M37.2,92.69h1.5 M364.35,92.69h-1.5 M37.2,79.20h1.5 M364.35,79.20h-1.5 M37.2,72.46h1.5 M364.35,72.46h-1.5 M37.2,65.72h1.5 M364.35,65.72h-1.5 M37.2,58.97h1.5 M364.35,58.97h-1.5 M37.2,45.48h1.5 M364.35,45.48h-1.5 M37.2,38.73h1.5 M364.35,38.73h-1.5 M37.2,31.99h1.5 M364.35,31.99h-1.5 M37.2,25.25h1.5 M364.35,25.25h-1.5 M37.20,220.85v-1.5 M37.20,18.5v1.5 M55.38,220.85v-1.5 M55.38,18.5v1.5 M73.55,220.85v-1.5 M73.55,18.5v1.5 M109.90,220.85v-1.5 M109.90,18.5v1.5 M128.08,220.85v-1.5 M128.08,18.5v1.5 M146.25,220.85v-1.5 M146.25,18.5v1.5 M164.43,220.85v-1.5 M164.43,18.5v1.5 M200.78,220.85v-1.5 M200.78,18.5v1.5 M218.95,220.85v-1.5 M218.95,18.5v1.5 M237.13,220.85v-1.5 M237.13,18.5v1.5 M255.30,220.85v-1.5 M255.30,18.5v1.5 M291.65,220.85v-1.5 M291.65,18.5v1.5 M309.83,220.85v-1.5 M309.83,18.5v1.5 M328.00,220.85v-1.5 M328.00,18.5v1.5 M346.18,220.85v-1.5 M346.18,18.5v1.5" stroke="#444" stroke-width="0.7" fill="none"/>
<path d="M36.900000000000006,220.85h2.5 M364.65000000000003,220.85h-2.5 M36.900000000000006,187.12h2.5 M364.65000000000003,187.12h-2.5 M36.900000000000006,153.40h2.5 M364.65000000000003,153.40h-2.5 M36.900000000000006,119.67h2.5 M364.65000000000003,119.67h-2.5 M36.900000000000006,85.95h2.5 M364.65000000000003,85.95h-2.5 M36.900000000000006,52.22h2.5 M364.65000000000003,52.22h-2.5 M36.900000000000006,18.50h2.5 M364.65000000000003,18.50h-2.5 M91.73,221.15v-2.5 M91.73,18.2v2.5 M182.60,221.15v-2.5 M182.60,18.2v2.5 M273.48,221.15v-2.5 M273.48,18.2v2.5 M364.35,221.15v-2.5 M364.35,18.2v2.5" stroke="#333" stroke-width="0.8" fill="none"/>
<rect x="198" y="90.05" width="133.6" height="35.3" fill="#fff" stroke="#7a7a7a" stroke-width="0.6"/>
<path d="M201.4,97.4H260.1" stroke="#111" stroke-width="1.1"/>
<path d="M201.4,107.3H260.1" stroke="#111" stroke-width="1.15" stroke-dasharray="9.6 4.8"/>
<path d="M202.4,118.7H261" stroke="#111" stroke-width="1.45" stroke-linecap="round" stroke-dasharray="0.01 3.6"/>
<rect x="197.6" y="138.3" width="153.3" height="27.6" fill="#fff" stroke="#7a7a7a" stroke-width="0.6"/>
<rect x="98.2" y="110.2" width="23.6" height="12.8" fill="#ffffdc" stroke="#c6c6b4" stroke-width="0.6"/>
<rect x="156.8" y="173.0" width="23.8" height="12.3" fill="#ffffdc" stroke="#c6c6b4" stroke-width="0.6"/>
<rect x="330.2" y="205.0" width="23.8" height="12.0" fill="#ffffdc" stroke="#c6c6b4" stroke-width="0.6"/>
</svg>
<div class="t yt" style="top:215.85px">0</div>
<div class="t yt" style="top:181.72px">50</div>
<div class="t yt" style="top:148.00px">100</div>
<div class="t yt" style="top:114.27px">150</div>
<div class="t yt" style="top:80.55px">200</div>
<div class="t yt" style="top:46.82px">250</div>
<div class="t yt" style="top:13.10px">300</div>
<div class="t xt" style="left:71.73px;top:223.6px">50</div>
<div class="t xt" style="left:162.60px;top:223.6px">100</div>
<div class="t xt" style="left:253.48px;top:223.6px">150</div>
<div class="t xt" style="left:344.35px;top:223.6px">200</div>
<div class="t" style="font-size:10.5px;letter-spacing:0.1px;left:168.2px;top:239.6px">Distance (km)</div>
<div class="t" id="yl" style="font-size:10.5px;letter-spacing:0.14px;left:1.1px;top:33.15px;writing-mode:vertical-rl;transform:rotate(180deg);-webkit-text-stroke:0.28px #111">Optimal Degree of Time Multiplexing</div>
<div class="t" id="lg1" style="font-size:8.4px;left:268.2px;top:92.3px">Ideal operations</div>
<div class="t m" id="math" style="left:0;top:0;width:374px;height:252px"><span class="k" style="left:267.80px;top:100.66px;font-size:10.2px;font-style:italic;">&#1013;</span><span class="k" style="left:272.20px;top:104.79px;font-size:7.3px;font-style:italic;">g</span><span class="k" style="left:279.60px;top:100.83px;font-size:10px;transform-origin:0 50%;transform:scaleX(1.42);">=</span><span class="k" style="left:290.30px;top:100.41px;font-size:10.5px;letter-spacing:-0.25px;">10</span><span class="k" style="left:300.30px;top:99.67px;font-size:7.2px;">&minus;</span><span class="k" style="left:305.00px;top:99.67px;font-size:7.2px;">4</span><span class="k" style="left:267.80px;top:110.86px;font-size:10.2px;font-style:italic;">&#1013;</span><span class="k" style="left:272.20px;top:114.99px;font-size:7.3px;font-style:italic;">g</span><span class="k" style="left:279.60px;top:111.03px;font-size:10px;transform-origin:0 50%;transform:scaleX(1.42);">=</span><span class="k" style="left:290.30px;top:110.61px;font-size:10.5px;letter-spacing:-0.25px;">10</span><span class="k" style="left:300.30px;top:109.87px;font-size:7.2px;">&minus;</span><span class="k" style="left:305.00px;top:109.87px;font-size:7.2px;">3</span><span class="k" style="left:200.90px;top:139.29px;font-size:11.0px;font-style:italic;">&eta;</span><span class="k" style="left:205.90px;top:143.90px;font-size:7.4px;font-style:italic;">c</span><span class="k" style="left:212.30px;top:140.12px;font-size:10px;transform-origin:0 50%;transform:scaleX(1.42);">=</span><span class="k" style="left:223.90px;top:139.71px;font-size:10.5px;letter-spacing:0.05px;">0.3</span><span class="k" style="left:236.00px;top:139.71px;font-size:10.5px;">,</span><span class="k" style="left:241.90px;top:139.29px;font-size:11.0px;font-style:italic;">&eta;</span><span class="k" style="left:247.00px;top:143.90px;font-size:7.4px;font-style:italic;">d</span><span class="k" style="left:254.00px;top:140.12px;font-size:10px;transform-origin:0 50%;transform:scaleX(1.42);">=</span><span class="k" style="left:265.60px;top:139.71px;font-size:10.5px;letter-spacing:0.2px;">0.8</span><span class="k" style="left:200.90px;top:151.14px;font-size:11.0px;font-style:italic;">&tau;</span><span class="k" style="left:205.60px;top:155.75px;font-size:7.4px;font-style:italic;letter-spacing:0.35px;">rep</span><span class="k" style="left:221.40px;top:151.97px;font-size:10px;transform-origin:0 50%;transform:scaleX(1.42);">=</span><span class="k" style="left:233.00px;top:151.56px;font-size:10.5px;">1</span><span class="k" style="left:237.60px;top:151.14px;font-size:11.0px;font-style:italic;">&mu;</span><span class="k" style="left:242.60px;top:151.56px;font-size:10.5px;">s</span><span class="k" style="left:246.50px;top:151.56px;font-size:10.5px;">,</span><span class="k" style="left:251.70px;top:151.14px;font-size:11.0px;font-style:italic;">&tau;</span><span class="k" style="left:256.70px;top:156.05px;font-size:7.4px;font-style:italic;">g</span><span class="k" style="left:264.80px;top:151.97px;font-size:10px;transform-origin:0 50%;transform:scaleX(1.42);">=</span><span class="k" style="left:276.50px;top:151.56px;font-size:10.5px;">1</span><span class="k" style="left:281.10px;top:151.14px;font-size:11.0px;font-style:italic;">&mu;</span><span class="k" style="left:286.10px;top:151.56px;font-size:10.5px;">s</span><span class="k" style="left:290.00px;top:151.56px;font-size:10.5px;">,</span><span class="k" style="left:295.40px;top:151.14px;font-size:11.0px;font-style:italic;">&tau;</span><span class="k" style="left:300.40px;top:155.75px;font-size:7.4px;font-style:italic;">o</span><span class="k" style="left:307.90px;top:151.97px;font-size:10px;transform-origin:0 50%;transform:scaleX(1.42);">=</span><span class="k" style="left:320.20px;top:151.56px;font-size:10.5px;letter-spacing:-0.25px;">50</span><span class="k" style="left:331.30px;top:151.14px;font-size:11.0px;font-style:italic;">&mu;</span><span class="k" style="left:336.40px;top:151.56px;font-size:10.5px;">s</span></div>
<svg width="374" height="252" style="position:absolute;left:0;top:0;will-change:transform" font-family="Liberation Sans, sans-serif" font-weight="bold" font-size="8.7"><g transform="translate(102.2,119.45) scale(0.88,1)" fill="#ff4d20"><text x="0" y="0" transform="skewX(-5)">M</text><text x="7.7" y="0">=1</text></g><g transform="translate(160.7,182.3) scale(0.92,1)" fill="#2828be"><text x="0" y="0" transform="skewX(-5)">M</text><text x="7.7" y="0">=5</text></g><g transform="translate(332.6,214.6) scale(0.92,1)" fill="#2a7a30"><text x="0" y="0">M</text><text x="7.7" y="0">=10</text></g></svg>
</div></body></html>
